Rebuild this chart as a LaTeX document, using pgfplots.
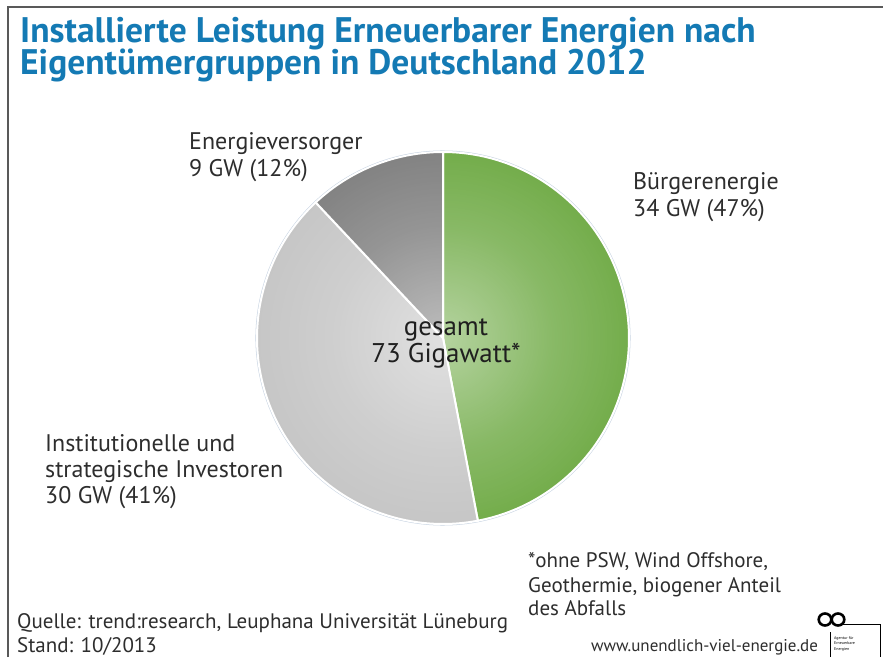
\documentclass[border=0pt]{standalone}
\usepackage{fontspec}
\setmainfont{PT Sans}
\usepackage{pgfplots}
\pgfplotsset{compat=1.18}
\usetikzlibrary{fadings}
\definecolor{titleblue}{RGB}{20,122,180}
\definecolor{txt}{RGB}{45,45,45}
\definecolor{pgreen}{RGB}{90,158,42}
\definecolor{plight}{RGB}{188,188,188}
\definecolor{pdark}{RGB}{108,108,108}
\definecolor{rimblue}{RGB}{200,212,226}
\pgfdeclareradialshading{piefadeshade}{\pgfpointorigin}{color(0bp)=(black!45); color(15bp)=(black!72); color(32bp)=(black!93); color(50bp)=(black)}
\pgfdeclarefading{piefade}{\pgfuseshading{piefadeshade}}
\begin{document}
\begin{tikzpicture}[x=1pt,y=1pt]
\useasboundingbox (0,0) rectangle (883,657);
% frame
\draw[line width=2pt, black!65] (8,0) -- (8,650) -- (883,650);
% title
\node[anchor=base west, inner sep=0, text=titleblue, font=\fontsize{35.5}{35.5}\selectfont\bfseries] at (20,614) {Installierte Leistung Erneuerbarer Energien nach};
\node[anchor=base west, inner sep=0, text=titleblue, font=\fontsize{35.5}{35.5}\selectfont\bfseries] at (20,582) {Eigentümergruppen in Deutschland 2012};
% pie
\begin{axis}[at={(443pt,319pt)}, anchor=center, scale only axis, width=372pt, height=372pt,
  xmin=-1, xmax=1, ymin=-1, ymax=1, hide axis, clip=false]
\addplot[draw=rimblue, line width=1.6pt, fill=none, domain=0:360, samples=180, variable=\t] ({1.004*cos(t)},{1.004*sin(t)}) -- cycle;
% Buergerenergie 47 %, Institutionelle 41 %, Energieversorger 12 %
\addplot[fill=pgreen, draw=white, line width=2pt, domain={90-47*3.6}:90, samples=120, variable=\t] ({cos(t)},{sin(t)}) -- (axis cs:0,0) -- cycle;
\addplot[fill=plight, draw=white, line width=2pt, domain={90-(47+41)*3.6}:{90-47*3.6}, samples=120, variable=\t] ({cos(t)},{sin(t)}) -- (axis cs:0,0) -- cycle;
\addplot[fill=pdark, draw=white, line width=2pt, domain={90-100*3.6}:{90-(47+41)*3.6}, samples=60, variable=\t] ({cos(t)},{sin(t)}) -- (axis cs:0,0) -- cycle;
\addplot[fill=white, draw=none, path fading=piefade, domain=0:360, samples=180, variable=\t] ({cos(t)},{sin(t)}) -- cycle;
\end{axis}
% labels
\begin{scope}[every node/.style={anchor=base west, inner sep=0, text=txt, font=\fontsize{24}{24}\selectfont}]
\node at (189,507) {Energieversorger};
\node at (189,480) {9 GW (12\%)};
\node at (633,467) {Bürgerenergie};
\node at (633,440) {34 GW (47\%)};
\node at (45,206) {Institutionelle und};
\node at (45,180) {strategische Investoren};
\node at (45,154) {30 GW (41\%)};
\end{scope}
\node[anchor=base, inner sep=0, text=black!88, font=\fontsize{27}{27}\selectfont] at (446,322) {gesamt};
\node[anchor=base, inner sep=0, text=black!88, font=\fontsize{27}{27}\selectfont] at (446,295) {73 Gigawatt*};
\begin{scope}[every node/.style={anchor=base west, inner sep=0, text=txt, font=\fontsize{21}{21}\selectfont}]
\node at (528,90) {*ohne PSW, Wind Offshore,};
\node at (528,65) {Geothermie, biogener Anteil};
\node at (528,42) {des Abfalls};
\node at (17,29) {Quelle: trend:research, Leuphana Universität Lüneburg};
\node at (17,5) {Stand: 10/2013};
\end{scope}
\node[anchor=base west, inner sep=0, text=txt, font=\fontsize{17}{17}\selectfont] at (591,6) {www.unendlich-viel-energie.de};
% logo
\draw[line width=2.6pt] (825,37.5) ellipse [x radius=6.3, y radius=6];
\draw[line width=2.6pt] (838,37.5) ellipse [x radius=6.3, y radius=6];
\draw[line width=0.6pt] (843,33) -- (880,33) -- (880,0);
\draw[line width=0.6pt] (830,25) -- (830,0);
\node[anchor=base west, inner sep=0, font=\fontsize{4}{4}\selectfont] at (834,18) {Agentur für};
\node[anchor=base west, inner sep=0, font=\fontsize{4}{4}\selectfont] at (834,12.5) {Erneuerbare};
\node[anchor=base west, inner sep=0, font=\fontsize{4}{4}\selectfont] at (834,7) {Energien};
\end{tikzpicture}
\end{document}
